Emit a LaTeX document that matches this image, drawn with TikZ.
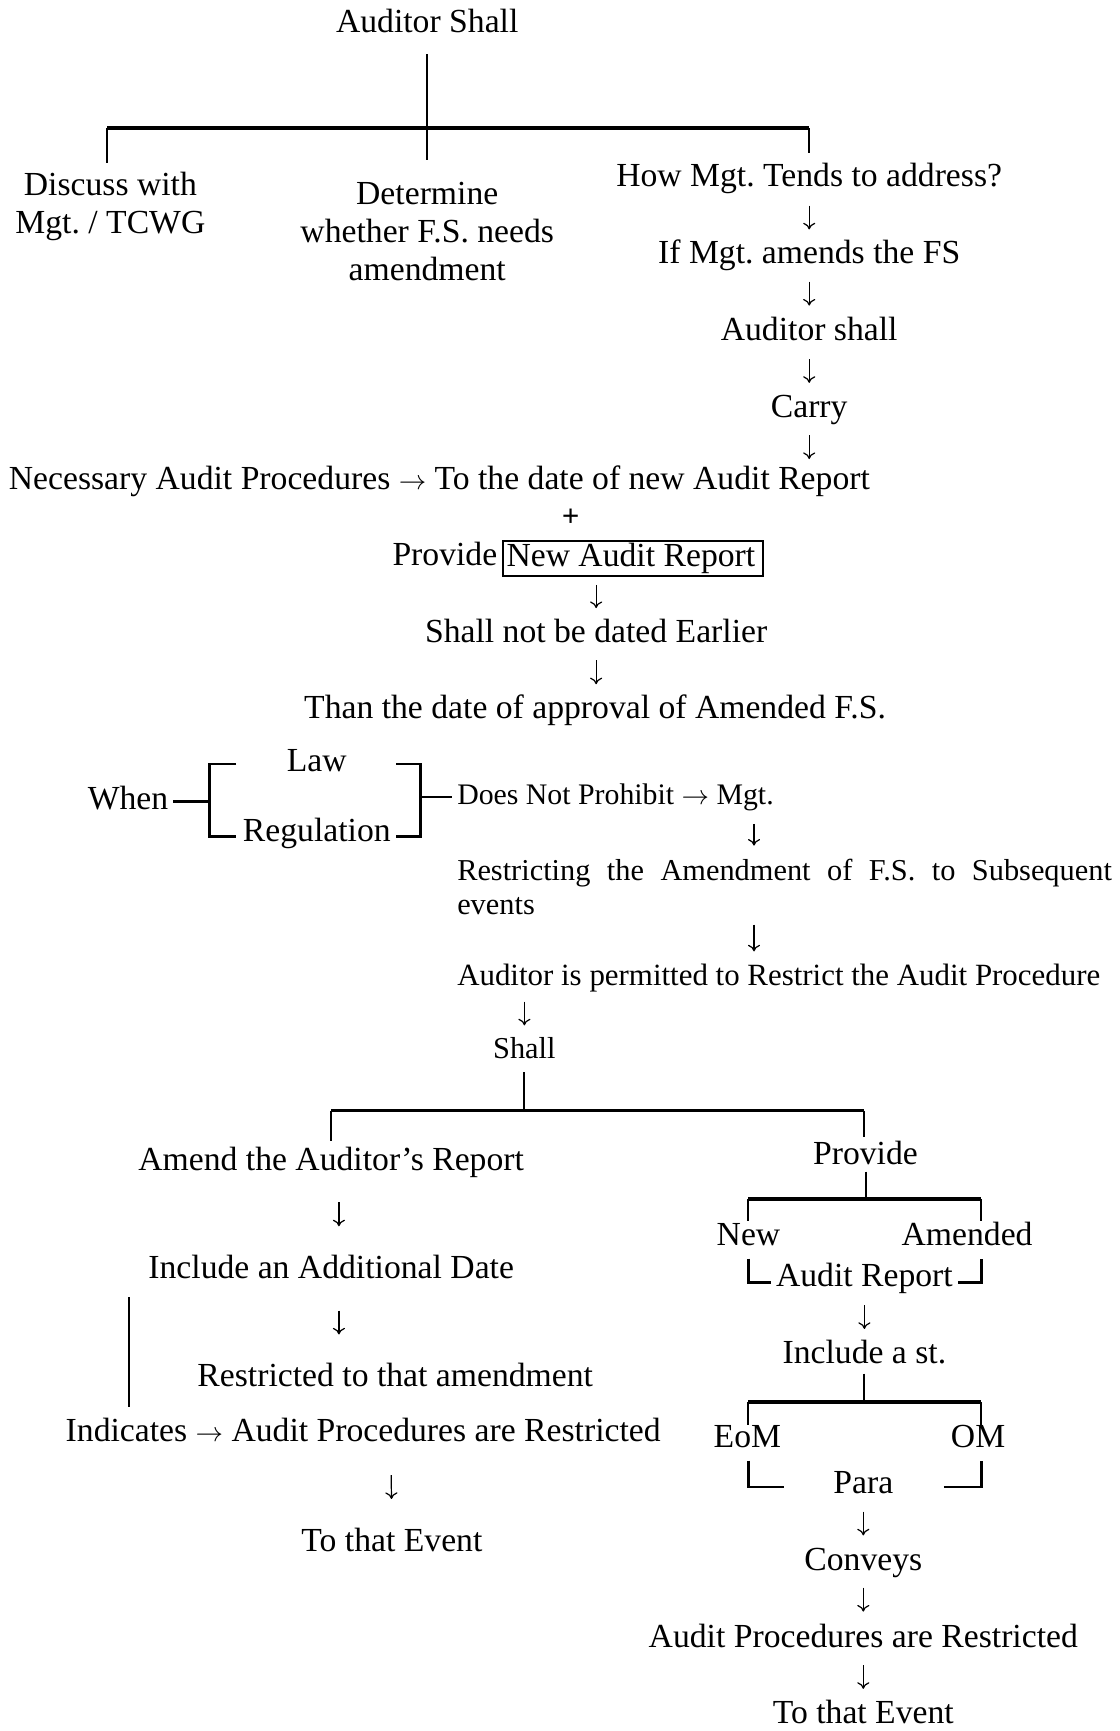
\documentclass[tikz,border=0pt]{standalone}
\usepackage{fontspec}
\setmainfont{Liberation Serif}
\usetikzlibrary{arrows.meta}
\frenchspacing
\begin{document}
\begin{tikzpicture}[x=1pt,y=-1pt,
  every node/.style={font=\fontsize{30.5}{34.5}\selectfont, inner sep=0pt},
  t/.style={text height=20pt, text depth=6pt},
  sm/.style={font=\fontsize{27.5}{31}\selectfont},
  ml/.style={align=center},
  stem/.style={line width=1.8pt},
  bar/.style={line width=3pt},
  brk/.style={line width=2.4pt},
  dn/.style 2 args={line width=1.1pt, -{To[length=6pt,width=11pt]}, shorten <=#1pt, shorten >=#2pt},
]
\useasboundingbox (0,0) rectangle (1014,1568);

% ---------- top level ----------
\node[t] (root) at (387,22) {Auditor Shall};
\node[ml, anchor=north] (disc) at (100,156) {Discuss with\\Mgt. / TCWG};
\node[ml, anchor=north] (det) at (387,165) {Determine\\whether F.S. needs\\amendment};
\node[t] (how) at (733,162) {How Mgt. Tends to address?};
\node[t] (ifm) at (733,232) {If Mgt. amends the FS};
\node[t] (aud) at (733,301) {Auditor shall};
\node[t] (carry) at (733,371) {Carry};
\node[t] (nec) at (398,436) {Necessary Audit Procedures $\rightarrow$ To the date of new Audit Report};
\node[t, font=\bfseries\fontsize{28}{30}\selectfont] (plus) at (517,470) {+};
\node[t] (prov) at (403,505) {Provide};
\node[t, draw, line width=1.6pt, anchor=west, inner xsep=3pt, inner ysep=3pt] (nar) at (455,506)
  {\makebox[229pt][l]{New Audit Report}};
\node[t] (sne) at (540,575) {Shall not be dated Earlier};
\node[t] (than) at (539,644) {Than the date of approval of Amended F.S.};

\coordinate (bL) at (97,116);
\coordinate (bR) at (733,116);
\draw[stem, shorten <=14pt, shorten >=20pt] (root.south) -- (root.south |- det.north);
\draw[bar] (bL) -- (bR);
\draw[stem, shorten >=8pt] (bL) -- (bL |- disc.north);
\draw[stem, shorten >=10pt] (bR) -- (bR |- how.north);

\draw[dn={11}{11}] (how) -- (ifm);
\draw[dn={10}{11}] (ifm) -- (aud);
\draw[dn={11}{11}] (aud) -- (carry);
\draw[dn={10}{7}] (carry.south) -- (carry.south |- nec.north);
\draw[dn={7}{11}] (sne.north |- nar.south) -- (sne.north);
\draw[dn={10}{11}] (sne.south) -- (sne.south |- than.north);

% ---------- law / regulation ----------
\node[t] (when) at (116,726) {When};
\node[t] (law) at (287,692) {Law};
\node[t] (reg) at (287,755) {Regulation};
\node[t, sm, font=\fontsize{27}{31}\selectfont, anchor=west] (dnp) at (414,722) {Does Not Prohibit $\rightarrow$ Mgt.};
\node[sm, anchor=north west, align=left] (restr) at (414,778)
  {\makebox[593pt][s]{Restricting the Amendment of F.S. to Subsequent}\\events};
\node[t, sm, font=\fontsize{28}{31}\selectfont, anchor=west] (perm) at (414,886) {Auditor is permitted to Restrict the Audit Procedure};
\node[t, sm] (shall) at (475,952) {Shall};

\coordinate (lbx) at (190,0);
\coordinate (rbx) at (381,0);
\draw[brk] (when.east -| lbx) -- ([xshift=4pt]when.east);
\draw[brk] (214,692) -- (190,692) -- (190,758) -- (214,758);
\draw[brk] (359,692) -- (381,692) -- (381,758) -- (359,758);
\draw[brk, shorten >=5pt] (dnp.west -| rbx) -- (dnp.west);

\coordinate (xm) at (683,0);
\coordinate (xs) at (475,0);
\draw[dn={11}{12}] (dnp.south -| xm) -- (restr.north -| xm);
\draw[dn={8.5}{11}] (restr.south -| xm) -- (perm.north -| xm);
\draw[dn={8}{10}] (perm.south -| xs) -- (shall.north);

% ---------- two alternatives ----------
\node[t] (amend) at (300,1053) {Amend the Auditor’s Report};
\node[t] (incl) at (300,1151) {Include an Additional Date};
\node[t] (rta) at (358,1249) {Restricted to that amendment};
\node[t] (ind) at (329,1299) {Indicates $\rightarrow$ Audit Procedures are Restricted};
\node[t] (tte) at (355,1398) {To that Event};

\node[t] (prv) at (784,1048) {Provide};
\node[t] (new) at (678,1121) {New};
\node[t] (amd) at (876,1121) {Amended};
\node[t] (ar) at (783,1158) {Audit Report};
\node[t] (incst) at (783,1228) {Include a st.};
\node[t] (eom) at (677,1304) {EoM};
\node[t] (om) at (886,1304) {OM};
\node[t] (para) at (782,1346) {Para};
\node[t] (conv) at (782,1416) {Conveys};
\node[t] (apr) at (782,1485) {Audit Procedures are Restricted};
\node[t] (tte2) at (782,1554) {To that Event};

\coordinate (sL) at (300,1006);
\coordinate (sR) at (783,1006);
\draw[stem, shorten <=6pt] (shall.south) -- (shall.south |- sL);
\draw[bar] (sL) -- (sR);
\draw[stem, shorten >=6pt] (sL) -- (sL |- amend.north);
\draw[stem, shorten >=5pt] (sR) -- (sR |- prv.north);

\coordinate (xa) at (307,0);
\coordinate (xi) at (354,0);
\coordinate (vl) at (117,1175);
\draw[dn={23}{27}] (amend.south -| xa) -- (incl.north -| xa);
\draw[dn={23}{27}] (incl.south -| xa) -- (rta.north -| xa);
\draw[stem, shorten >=11pt] (vl) -- (vl |- ind.north);
\draw[dn={24}{27}] (ind.south -| xi) -- (tte.north);

\coordinate (pL) at (678,1086);
\coordinate (pR) at (889,1086);
\draw[stem] (prv.south) -- (prv.south |- pL);
\draw[bar] (pL) -- (pR);
\draw[stem, shorten >=2pt] (pL) -- (pL |- new.north);
\draw[stem, shorten >=2pt] (pR) -- (pR |- amd.north);
\draw[brk] (678,1140) -- (678,1162) -- (698,1162);
\draw[brk] (868,1162) -- (889,1162) -- (889,1140);
\draw[dn={11}{11}] (ar) -- (incst);

\coordinate (iL) at (678,1270);
\coordinate (iR) at (889,1270);
\draw[stem, shorten <=3pt] (incst.south) -- (incst.south |- iL);
\draw[bar] (iL) -- (iR);
\draw[stem] (iL) -- (iL |- eom.north);
\draw[stem] (iR) -- (iR |- om.north);
\draw[brk] (678,1323) -- (678,1347) -- (710,1347);
\draw[brk] (855,1347) -- (889,1347) -- (889,1323);
\draw[dn={10}{12}] (para) -- (conv);
\draw[dn={9}{12}] (conv) -- (apr);
\draw[dn={10}{11}] (apr) -- (tte2);
\end{tikzpicture}
\end{document}
